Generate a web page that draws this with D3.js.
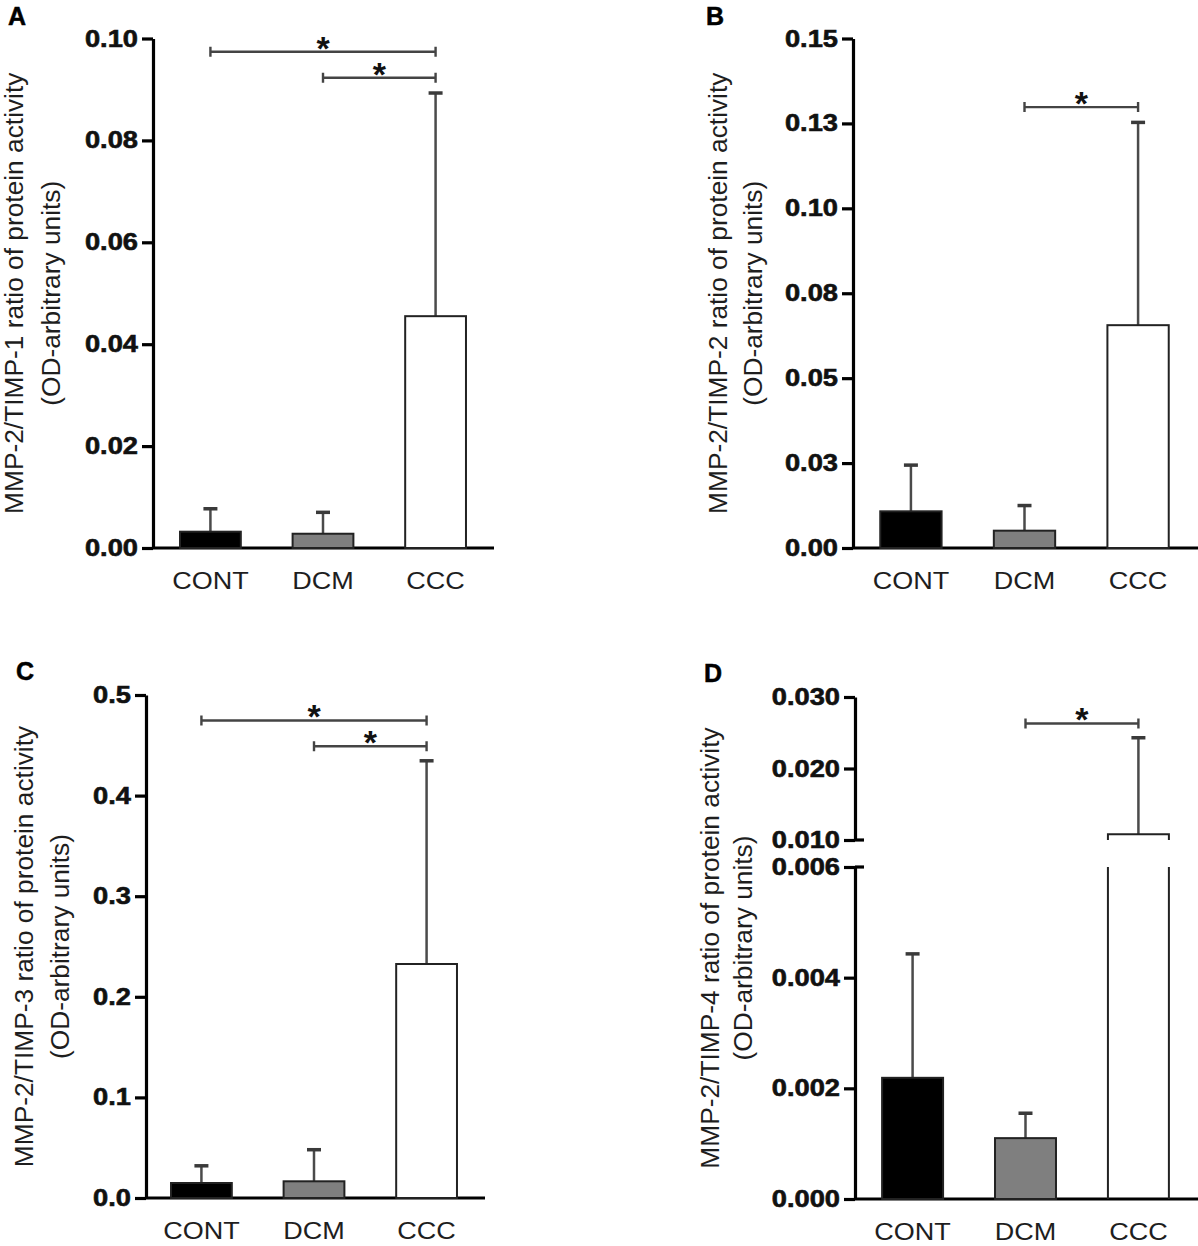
<!DOCTYPE html>
<html lang="en">
<head>
<meta charset="UTF-8">
<title>MMP-2/TIMP ratios</title>
<style>
  body { margin:0; background:#fff; }
  svg { display:block; }
  text { font-family: "Liberation Sans", Arial, Helvetica, sans-serif; }
</style>
</head>
<body>
<svg width="1198" height="1246"></svg>
<script src="https://cdnjs.cloudflare.com/ajax/libs/d3/7.8.5/d3.min.js"></script>
<script>
const categories = ["CONT", "DCM", "CCC"];
const fills = ["#000000", "#7f7f7f", "#ffffff"];

// A: MMP-2/TIMP-1
const meanA = [0.0032, 0.0028, 0.0455];
const errA = [0.0045, 0.0042, 0.0438];
const ticksA = [0, 0.02, 0.04, 0.06, 0.08, 0.10];
const tickLabelsA = ["0.00", "0.02", "0.04", "0.06", "0.08", "0.10"];
const sigA = [["CONT", "CCC", 0.0974], ["DCM", "CCC", 0.0923]];

// B: MMP-2/TIMP-2
const meanB = [0.0108, 0.0051, 0.0656];
const errB = [0.0136, 0.0074, 0.0597];
const ticksB = [0, 0.025, 0.05, 0.075, 0.10, 0.125, 0.15];
const tickLabelsB = ["0.00", "0.03", "0.05", "0.08", "0.10", "0.13", "0.15"];
const sigB = [["DCM", "CCC", 0.1298]];

// C: MMP-2/TIMP-3
const meanC = [0.0149, 0.0166, 0.2326];
const errC = [0.0171, 0.0314, 0.2020];
const ticksC = [0, 0.1, 0.2, 0.3, 0.4, 0.5];
const tickLabelsC = ["0.0", "0.1", "0.2", "0.3", "0.4", "0.5"];
const sigC = [["CONT", "CCC", 0.4747], ["DCM", "CCC", 0.449]];

// D: MMP-2/TIMP-4 (broken axis)
const meanD = [0.00219, 0.0011, 0.0108];
const errD = [0.00224, 0.00045, 0.0135];
const ticksDLow = [0, 0.002, 0.004, 0.006];
const tickLabelsDLow = ["0.000", "0.002", "0.004", "0.006"];
const ticksDHigh = [0.010, 0.020, 0.030];
const tickLabelsDHigh = ["0.010", "0.020", "0.030"];
const sigD = [["DCM", "CCC", 0.0263]];

const svg = d3.select("svg");
const stretch = 1.16;

const panels = [
  { letter: "A", lx: 8, ly: 25, axisX: 153, band: [153, 493], xEnd: 494,
    title: "MMP-2/TIMP-1 ratio of protein activity", t1: -130, t2: -93,
    mean: meanA, err: errA, sig: sigA,
    segments: [{ domain: [0, 0.10], range: [548, 38.5], ticks: ticksA, labels: tickLabelsA }] },
  { letter: "B", lx: 706, ly: 25, axisX: 853, band: [853, 1196], xEnd: 1198,
    title: "MMP-2/TIMP-2 ratio of protein activity", t1: -126, t2: -91,
    mean: meanB, err: errB, sig: sigB,
    segments: [{ domain: [0, 0.15], range: [548, 38.5], ticks: ticksB, labels: tickLabelsB }] },
  { letter: "C", lx: 16, ly: 680, axisX: 146, band: [144, 484], xEnd: 485,
    title: "MMP-2/TIMP-3 ratio of protein activity", t1: -113, t2: -77,
    mean: meanC, err: errC, sig: sigC,
    segments: [{ domain: [0, 0.5], range: [1198, 695], ticks: ticksC, labels: tickLabelsC }] },
  { letter: "D", lx: 704, ly: 682, axisX: 855, band: [855, 1196], xEnd: 1198,
    title: "MMP-2/TIMP-4 ratio of protein activity", t1: -136, t2: -103,
    mean: meanD, err: errD, sig: sigD, breaks: [0.006, 0.010],
    segments: [
      { domain: [0, 0.006], range: [1199, 867], ticks: ticksDLow, labels: tickLabelsDLow },
      { domain: [0.010, 0.030], range: [840, 697], ticks: ticksDHigh, labels: tickLabelsDHigh }
    ] }
];

function drawPanel(p) {
  const g = svg.append("g");
  const x = d3.scaleBand().domain(categories).range(p.band)
    .paddingInner(0.46).paddingOuter(0.24);
  const bw = x.bandwidth();
  const segs = p.segments.map(s => Object.assign({}, s, {
    scale: d3.scaleLinear().domain(s.domain).range(s.range)
  }));
  const segOf = v => segs.find(s => v <= s.domain[1]) || segs[segs.length - 1];
  const y = v => segOf(v).scale(v);
  const base = segs[0].scale(0);

  // y axis, one piece per segment
  segs.forEach(s => {
    const axis = d3.axisLeft(s.scale)
      .tickValues(s.ticks)
      .tickFormat((d, j) => s.labels[j])
      .tickSize(11).tickPadding(4).tickSizeOuter(0);
    const a = g.append("g")
      .attr("transform", `translate(${p.axisX},0)`)
      .call(axis)
      .attr("font-size", 23.5)
      .attr("font-weight", "bold");
    a.select(".domain").attr("stroke", "#000").attr("stroke-width", 3.2);
    a.selectAll(".tick line").attr("stroke", "#000").attr("stroke-width", 3.2);
    a.selectAll(".tick text")
      .attr("x", 0)
      .attr("fill", "#111")
      .attr("stroke", "#111").attr("stroke-width", 0.6)
      .attr("transform", `translate(-15,0) scale(${stretch},1)`);
  });

  // break marks cross the axis
  (p.breaks || []).forEach(v => {
    g.append("line")
      .attr("x1", p.axisX).attr("x2", p.axisX + 9)
      .attr("y1", y(v)).attr("y2", y(v))
      .attr("stroke", "#000").attr("stroke-width", 3.2);
  });

  // x axis baseline
  g.append("line")
    .attr("x1", p.axisX).attr("x2", p.xEnd)
    .attr("y1", base).attr("y2", base)
    .attr("stroke", "#000").attr("stroke-width", 3.2);

  // bars
  categories.forEach((c, i) => {
    const m = p.mean[i], e = p.err[i];
    const x0 = x(c), cx = x0 + bw / 2;
    const s = segOf(m);

    // error bar
    g.append("line")
      .attr("x1", cx).attr("x2", cx)
      .attr("y1", y(m)).attr("y2", y(m + e))
      .attr("stroke", "#4a4a4a").attr("stroke-width", 2.5);
    g.append("line")
      .attr("x1", cx - 7).attr("x2", cx + 7)
      .attr("y1", y(m + e)).attr("y2", y(m + e))
      .attr("stroke", "#3a3a3a").attr("stroke-width", 3.5);

    if (s === segs[0]) {
      g.append("rect")
        .attr("x", x0).attr("y", y(m))
        .attr("width", bw).attr("height", base - y(m))
        .attr("fill", fills[i])
        .attr("stroke", "#222").attr("stroke-width", 2);
    } else {
      const lo = segs[0].scale(segs[0].domain[1]);
      const u0 = s.scale(s.domain[0]);
      g.append("path")
        .attr("d", `M${x0},${base}V${lo}M${x0 + bw},${base}V${lo}`)
        .attr("fill", "none").attr("stroke", "#222").attr("stroke-width", 2);
      g.append("path")
        .attr("d", `M${x0},${u0}V${y(m)}H${x0 + bw}V${u0}`)
        .attr("fill", "none").attr("stroke", "#222").attr("stroke-width", 2);
    }

    g.append("text")
      .attr("transform", `translate(${cx},${base + 41}) scale(${stretch},1)`)
      .attr("text-anchor", "middle")
      .attr("font-size", 23.3)
      .attr("fill", "#1e1e1e")
      .text(c);
  });

  // significance brackets
  p.sig.forEach(([a, b, v]) => {
    const x1 = x(a) + bw / 2, x2 = x(b) + bw / 2, yy = y(v);
    g.append("path")
      .attr("d", `M${x1},${yy - 5}V${yy + 5}M${x1},${yy}H${x2}M${x2},${yy - 5}V${yy + 5}`)
      .attr("fill", "none").attr("stroke", "#444").attr("stroke-width", 2.4);
    g.append("text")
      .attr("x", (x1 + x2) / 2).attr("y", yy + 8)
      .attr("text-anchor", "middle")
      .attr("font-size", 34).attr("font-weight", "bold")
      .attr("fill", "#111")
      .text("*");
  });

  // y title (two lines)
  const cy = (segs[0].range[0] + segs[segs.length - 1].range[1]) / 2;
  [[p.title, p.t1], ["(OD-arbitrary units)", p.t2]].forEach(([t, dx]) => {
    g.append("text")
      .attr("transform", `translate(${p.axisX + dx},${cy}) rotate(-90)`)
      .attr("text-anchor", "middle")
      .attr("font-size", 26.3)
      .attr("fill", "#1e1e1e")
      .text(t);
  });

  // panel letter
  g.append("text")
    .attr("x", p.lx).attr("y", p.ly)
    .attr("font-size", 25).attr("font-weight", "bold")
    .attr("fill", "#000").attr("stroke", "#000").attr("stroke-width", 0.5)
    .text(p.letter);
}

panels.forEach(drawPanel);
</script>
</body>
</html>
